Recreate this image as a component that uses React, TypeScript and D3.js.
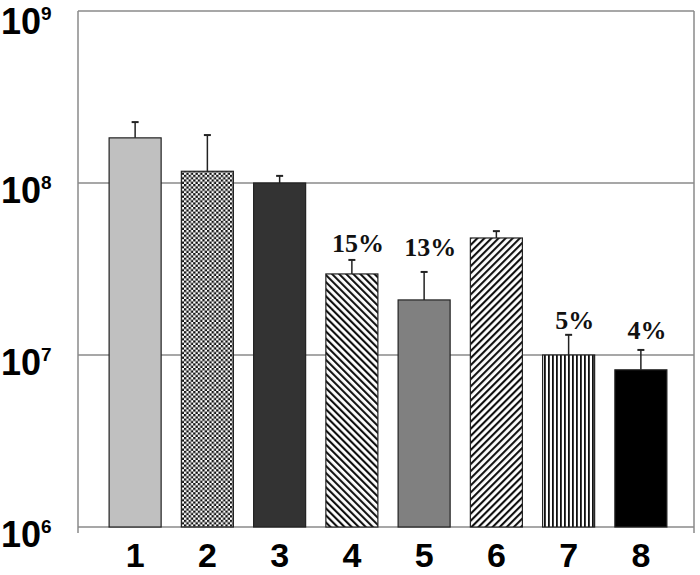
import React, { useEffect, useRef } from "react";
import { select, scaleBand, scaleLog } from "d3";

// bar data (log scale)
const categories = ["1", "2", "3", "4", "5", "6", "7", "8"];
const means = [1.83e8, 1.17e8, 1.0e8, 2.96e7, 2.09e7, 4.79e7, 1.0e7, 8.2e6];
const upperErr = [2.26e8, 1.9e8, 1.1e8, 3.57e7, 3.04e7, 5.25e7, 1.31e7, 1.07e7];
const pctLabels = ["", "", "", "15%", "13%", "", "5%", "4%"];
// axis value at which each percent label sits
const pctLabelAt = [0, 0, 0, 3.97e7, 3.77e7, 0, 1.42e7, 1.24e7];
const tickExponents = [6, 7, 8, 9];

const App = () => {
  const svgRef = useRef<SVGSVGElement>(null);

  useEffect(() => {
    const W = 700;
    const H = 575;
    const left = 78;
    const right = 694;
    const top = 11;
    const bottom = 527;

    const svg = select(svgRef.current);
    svg.selectAll("*").remove();
    svg.attr("width", W).attr("height", H);

    svg.append("rect").attr("width", W).attr("height", H).attr("fill", "#fff");

    // patterns
    const defs = svg.append("defs");

    const checker = defs
      .append("pattern")
      .attr("id", "checker")
      .attr("patternUnits", "userSpaceOnUse")
      .attr("width", 4.6)
      .attr("height", 4.6);
    checker.append("rect").attr("width", 4.6).attr("height", 4.6).attr("fill", "#fff");
    checker.append("rect").attr("width", 2.3).attr("height", 2.3).attr("fill", "#111");
    checker.append("rect").attr("x", 2.3).attr("y", 2.3).attr("width", 2.3).attr("height", 2.3).attr("fill", "#111");

    const diag = (id: string, angle: number) => {
      const p = defs
        .append("pattern")
        .attr("id", id)
        .attr("patternUnits", "userSpaceOnUse")
        .attr("width", 5)
        .attr("height", 5)
        .attr("patternTransform", `rotate(${angle})`);
      p.append("rect").attr("width", 5).attr("height", 5).attr("fill", "#fff");
      p.append("rect").attr("width", 2.1).attr("height", 5).attr("fill", "#111");
    };
    diag("back", -45);
    diag("fwd", 45);

    const vert = defs
      .append("pattern")
      .attr("id", "vert")
      .attr("patternUnits", "userSpaceOnUse")
      .attr("width", 4)
      .attr("height", 4);
    vert.append("rect").attr("width", 4).attr("height", 4).attr("fill", "#fff");
    vert.append("rect").attr("width", 1.8).attr("height", 4).attr("fill", "#111");

    const fills = [
      "#c0c0c0",
      "url(#checker)",
      "#333333",
      "url(#back)",
      "#808080",
      "url(#fwd)",
      "url(#vert)",
      "#000000",
    ];

    // scales
    const x = scaleBand<string>()
      .domain(categories)
      .range([99, 677])
      .paddingInner(0.28)
      .paddingOuter(0.14);
    const y = scaleLog().domain([1e6, 1e9]).range([bottom, top]);

    // frame + gridlines
    const grid = "#8a8a8a";
    const seg = (x1: number, y1: number, x2: number, y2: number) =>
      svg
        .append("line")
        .attr("x1", x1)
        .attr("y1", y1)
        .attr("x2", x2)
        .attr("y2", y2)
        .attr("stroke", grid)
        .attr("stroke-width", 1.5);

    tickExponents.slice(1).forEach((e) => {
      const yy = y(Math.pow(10, e));
      seg(left, yy, right, yy);
    });
    seg(left, top, left, bottom + 6);
    seg(right, top, right, bottom + 6);
    seg(left, bottom, right, bottom);

    // bars
    const bw = x.bandwidth();
    categories.forEach((c, i) => {
      const x0 = x(c) as number;
      const cx = x0 + bw / 2;
      svg
        .append("rect")
        .attr("x", x0)
        .attr("y", y(means[i]))
        .attr("width", bw)
        .attr("height", bottom - y(means[i]))
        .attr("fill", fills[i])
        .attr("stroke", "#222")
        .attr("stroke-width", 1.2);

      // error bar (upper only)
      svg
        .append("line")
        .attr("x1", cx)
        .attr("x2", cx)
        .attr("y1", y(means[i]))
        .attr("y2", y(upperErr[i]))
        .attr("stroke", "#222")
        .attr("stroke-width", 1.5);
      svg
        .append("line")
        .attr("x1", cx - 3.5)
        .attr("x2", cx + 3.5)
        .attr("y1", y(upperErr[i]))
        .attr("y2", y(upperErr[i]))
        .attr("stroke", "#222")
        .attr("stroke-width", 2);

      if (pctLabels[i]) {
        svg
          .append("text")
          .attr("x", cx + 6)
          .attr("y", y(pctLabelAt[i]))
          .attr("text-anchor", "middle")
          .attr("font-family", "'Liberation Serif', 'Times New Roman', serif")
          .attr("font-weight", "bold")
          .attr("font-size", 26)
          .attr("fill", "#111")
          .text(pctLabels[i]);
      }

      // category label
      svg
        .append("text")
        .attr("x", cx)
        .attr("y", bottom + 40)
        .attr("text-anchor", "middle")
        .attr("font-family", "'Liberation Sans', Arial, sans-serif")
        .attr("font-weight", "bold")
        .attr("font-size", 34)
        .attr("fill", "#000")
        .text(c);
    });

    // y tick labels 10^n
    tickExponents.forEach((e) => {
      const t = svg
        .append("text")
        .attr("x", 1)
        .attr("y", Math.max(y(Math.pow(10, e)) + 20, 34))
        .attr("font-family", "'Liberation Sans', Arial, sans-serif")
        .attr("font-weight", "bold")
        .attr("fill", "#000");
      t.append("tspan").attr("font-size", 36).text("10");
      t.append("tspan").attr("font-size", 19).attr("dy", -14).text(String(e));
    });
  }, []);

  return (
    <div style={{ position: "absolute", left: 0, top: 0 }}>
      <svg ref={svgRef} style={{ display: "block" }}></svg>
    </div>
  );
};

export default App;
